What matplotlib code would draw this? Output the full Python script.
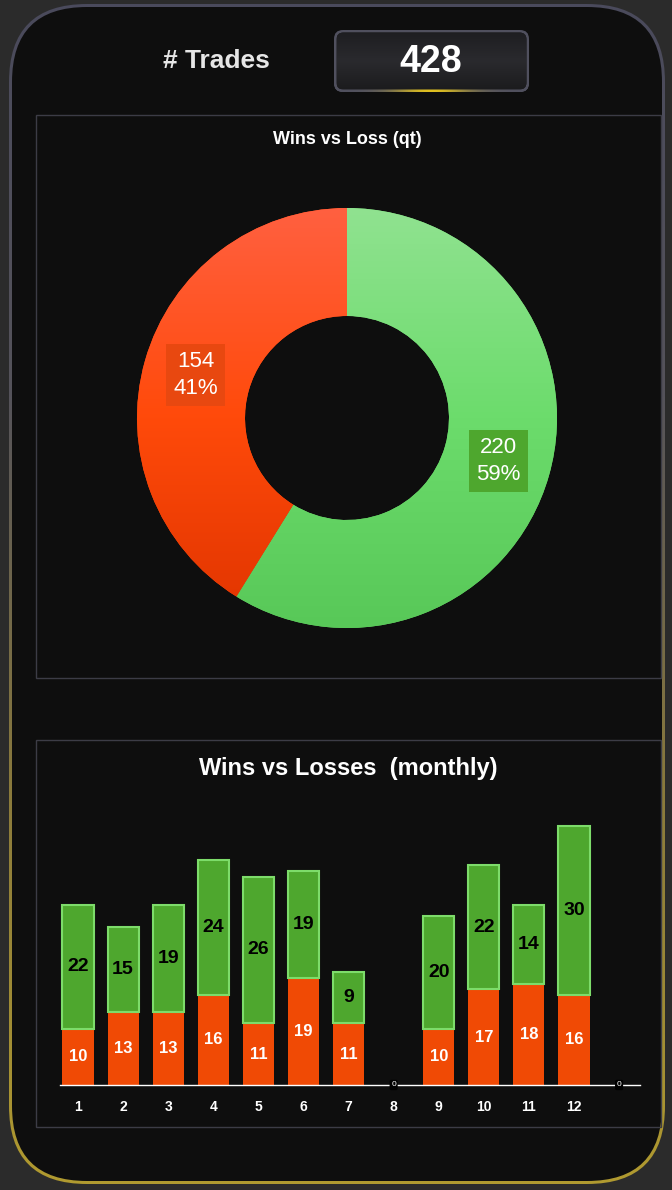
import matplotlib
matplotlib.use('Agg')
import matplotlib.pyplot as plt
import numpy as np
from matplotlib.patches import FancyBboxPatch, Rectangle
from matplotlib.colors import LinearSegmentedColormap

# data
total_trades = 428
pie_labels = ['Wins', 'Losses']
pie_values = [220, 154]
months = [1, 2, 3, 4, 5, 6, 7, 8, 9, 10, 11, 12]
losses = [10, 13, 13, 16, 11, 19, 11, 0, 10, 17, 18, 16]
wins = [22, 15, 19, 24, 26, 19, 9, 0, 20, 22, 14, 30]

W, H = 672, 1190
BG = '#2b2b2b'
CARD = '#0e0e0e'
GREEN = '#4ea72e'
GREEN_EDGE = '#7ddc6a'
RED = '#f04a05'
FONT = 'Liberation Sans'

fig = plt.figure(figsize=(W / 100, H / 100), dpi=100, facecolor=BG)


def px_axes(left, top, width, height):
    # axes from pixel box (top-left origin)
    return fig.add_axes([left / W, 1 - (top + height) / H, width / W, height / H])


bg = px_axes(0, 0, W, H)
bg.set_xlim(0, W)
bg.set_ylim(H, 0)
bg.axis('off')


def vgrad(ax, extent, colors, clip, z):
    # first colour at the top of the extent
    cmap = LinearSegmentedColormap.from_list('g', colors)
    grad = np.linspace(0, 1, 256).reshape(-1, 1)
    im = ax.imshow(grad, extent=extent, cmap=cmap, aspect='auto',
                   origin='upper', zorder=z, interpolation='bilinear')
    im.set_clip_path(clip)
    return im


# card with gradient border (bg y axis is inverted -> extent bottom=max y)
outer = FancyBboxPatch((9, 4), 656, 1180, boxstyle='round,pad=0,rounding_size=78',
                       fc='none', ec='none', zorder=1)
bg.add_patch(outer)
vgrad(bg, (9, 665, 1184, 4), ['#4a4a5c', '#55535a', '#8a7a3c', '#b09a30'], outer, 1)
inner = FancyBboxPatch((12, 7), 650, 1174, boxstyle='round,pad=0,rounding_size=75',
                       fc=CARD, ec='none', zorder=2)
bg.add_patch(inner)

# header
bg.text(216, 61, '# Trades', color='#e6e6e6', fontsize=19, fontweight='bold',
        family=FONT, ha='center', va='center', zorder=5)
box_out = FancyBboxPatch((334, 30), 195, 62, boxstyle='round,pad=0,rounding_size=9',
                         fc='#50505e', ec='none', zorder=3)
bg.add_patch(box_out)
# gold glow on the bottom edge
glow = np.exp(-((np.linspace(-1, 1, 200)) ** 2) / 0.15).reshape(1, -1)
gcmap = LinearSegmentedColormap.from_list('glow', ['#50505e', '#e0c020'])
im = bg.imshow(np.repeat(glow, 4, axis=0), extent=(334, 529, 92, 82), cmap=gcmap,
               aspect='auto', zorder=3.5, interpolation='bilinear')
im.set_clip_path(box_out)
box_in = FancyBboxPatch((336.5, 32.5), 190, 57, boxstyle='round,pad=0,rounding_size=7',
                        fc='#1f1f22', ec='none', zorder=4)
bg.add_patch(box_in)
vgrad(bg, (336.5, 526.5, 89.5, 32.5), ['#1e1e21', '#2a2a2e', '#1c1c1e'], box_in, 4)
bg.text(431, 62, str(total_trades), color='white', fontsize=27, fontweight='bold',
        family=FONT, ha='center', va='center', zorder=6)

# panels
for (x0, y0, x1, y1) in [(36, 115, 661, 678), (36, 740, 661, 1127)]:
    bg.add_patch(Rectangle((x0, y0), x1 - x0, y1 - y0, fc='none', ec='#3c3c46',
                           lw=1, zorder=5))

bg.text(347, 140, 'Wins vs Loss (qt)', color='white', fontsize=13, fontweight='bold',
        family=FONT, ha='center', va='center', zorder=6)
bg.text(348, 768, 'Wins vs Losses  (monthly)', color='white', fontsize=17,
        fontweight='bold', family=FONT, ha='center', va='center', zorder=6)

# donut
cx, cy, R = 347, 418, 210
pad = 215
ax_pie = px_axes(cx - pad, cy - pad, 2 * pad, 2 * pad)
ax_pie.set_facecolor('none')
total = sum(pie_values)
wedges, _, autotexts = ax_pie.pie(
    pie_values, colors=['#6ad86a', '#ff4a10'], startangle=90, counterclock=False,
    radius=1, wedgeprops=dict(width=1 - 102 / R, edgecolor='none'),
    autopct=lambda p: '{:d}\n{:.0f}%'.format(int(round(p * total / 100)), p),
    pctdistance=0.75, textprops=dict(color='white', fontsize=16, family=FONT,
                                     linespacing=1.35))
lim = pad / R
ax_pie.set_xlim(-lim, lim)
ax_pie.set_ylim(-lim, lim)
ax_pie.set_aspect('equal')
grads = [['#90e290', '#6cdc6c', '#58c858'], ['#ff6040', '#ff4a0a', '#e03400']]
for w, cols in zip(wedges, grads):
    vgrad(ax_pie, (-1, 1, -1, 1), cols, w, 2)
for t, fc in zip(autotexts, ['#4ea72e', '#e84810']):
    t.set_zorder(5)
    t.set_bbox(dict(fc=fc, ec='none', pad=5))

# monthly bars
x0px, x1px = 60, 640
top_px, base_px = 790, 1085
ax_bar = px_axes(x0px, top_px, x1px - x0px, base_px - top_px)
ax_bar.set_facecolor('none')
bm = [m for m, l, w in zip(months, losses, wins) if l + w > 0]
bl = [l for m, l, w in zip(months, losses, wins) if l + w > 0]
bw = [w for m, l, w in zip(months, losses, wins) if l + w > 0]
ax_bar.bar(bm, bl, width=0.69, color=RED, zorder=2)
ax_bar.bar(bm, bw, width=0.69, bottom=bl, color=GREEN,
           edgecolor=GREEN_EDGE, linewidth=1.5, zorder=2)
for m, l, w in zip(bm, bl, bw):
    ax_bar.text(m, l / 2, str(l), color='white', fontsize=12, fontweight='bold',
                family=FONT, ha='center', va='center', zorder=4)
    ax_bar.text(m, l + w / 2, str(w), color='black', fontsize=14, fontweight='bold',
                family=FONT, ha='center', va='center', zorder=4)
# zero markers on the axis
for m in [8, 13]:
    ax_bar.text(m, 0, '0', color='white', fontsize=6, ha='center', va='center', zorder=5,
                family=FONT, bbox=dict(boxstyle='round,pad=0.2', fc='black', ec='none'))

ax_bar.set_xlim(1 - 18 / 45.09, 1 + 562 / 45.09)
ax_bar.set_ylim(0, (base_px - top_px) / 5.63)
for s in ['top', 'right', 'left']:
    ax_bar.spines[s].set_visible(False)
ax_bar.spines['bottom'].set_color('white')
ax_bar.spines['bottom'].set_linewidth(1)
ax_bar.spines['bottom'].set_zorder(3)
ax_bar.set_yticks([])
ax_bar.set_xticks(months)
ax_bar.set_xticklabels([str(m) for m in months], family=FONT, fontweight='bold')
ax_bar.tick_params(axis='x', length=0, pad=11, colors='white', labelsize=10)

fig.savefig('out.png', dpi=100, facecolor=BG)
